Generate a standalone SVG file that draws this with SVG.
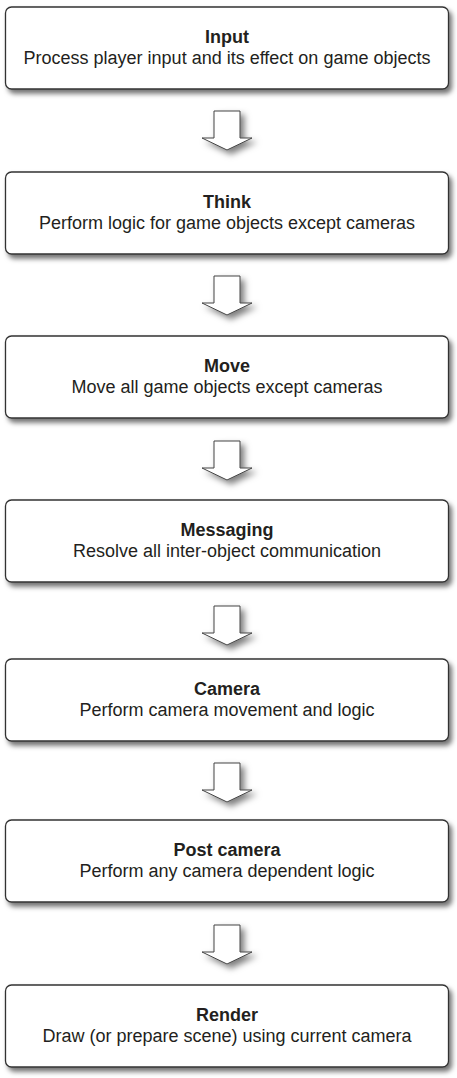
<svg xmlns="http://www.w3.org/2000/svg" width="457" height="1078" viewBox="0 0 457 1078">
<defs>
<filter id="bshadow" x="-10%" y="-20%" width="120%" height="150%">
<feDropShadow dx="3" dy="4" stdDeviation="2.5" flood-color="#000" flood-opacity="0.55"/>
</filter>
<filter id="ashadow" x="-50%" y="-50%" width="200%" height="200%">
<feDropShadow dx="4" dy="4" stdDeviation="3" flood-color="#000" flood-opacity="0.5"/>
</filter>
<style>
.box{fill:#fff;stroke:#333;stroke-width:1.3;filter:url(#bshadow)}
.arr{fill:#fff;stroke:#444;stroke-width:1;stroke-linejoin:miter;filter:url(#ashadow)}
.t{font-family:"Liberation Sans",Arial,sans-serif;font-size:18px;font-weight:bold;fill:#231f20;text-anchor:middle}
.s{font-family:"Liberation Sans",Arial,sans-serif;font-size:18px;fill:#231f20;text-anchor:middle}
</style>
</defs>
<rect width="457" height="1078" fill="#fff"/>
<g id="connectors">
<path class="arr" d="M214 111 H240 V138 H252 L227 150 L202 138 H214 Z"/>
<path class="arr" d="M214 276 H240 V303 H252 L227 315 L202 303 H214 Z"/>
<path class="arr" d="M214 441 H240 V468 H252 L227 480 L202 468 H214 Z"/>
<path class="arr" d="M214 606 H240 V633 H252 L227 645 L202 633 H214 Z"/>
<path class="arr" d="M214 763 H240 V790 H252 L227 802 L202 790 H214 Z"/>
<path class="arr" d="M214 925 H240 V952 H252 L227 964 L202 952 H214 Z"/>
</g>
<g id="input">
<rect class="box" x="5.5" y="7" width="443" height="82" rx="6"/>
<text class="t" x="227" y="42.7">Input</text>
<text class="s" x="227" y="64.3">Process player input and its effect on game objects</text>
</g>
<g id="think">
<rect class="box" x="5.5" y="172" width="443" height="82" rx="6"/>
<text class="t" x="227" y="207.7">Think</text>
<text class="s" x="227" y="229.3">Perform logic for game objects except cameras</text>
</g>
<g id="move">
<rect class="box" x="5.5" y="336" width="443" height="82" rx="6"/>
<text class="t" x="227" y="371.7">Move</text>
<text class="s" x="227" y="393.3">Move all game objects except cameras</text>
</g>
<g id="messaging">
<rect class="box" x="5.5" y="500" width="443" height="82" rx="6"/>
<text class="t" x="227" y="535.7">Messaging</text>
<text class="s" x="227" y="557.3">Resolve all inter-object communication</text>
</g>
<g id="camera">
<rect class="box" x="5.5" y="659" width="443" height="82" rx="6"/>
<text class="t" x="227" y="694.7">Camera</text>
<text class="s" x="227" y="716.3">Perform camera movement and logic</text>
</g>
<g id="postcamera">
<rect class="box" x="5.5" y="820" width="443" height="82" rx="6"/>
<text class="t" x="227" y="855.7">Post camera</text>
<text class="s" x="227" y="877.3">Perform any camera dependent logic</text>
</g>
<g id="render">
<rect class="box" x="5.5" y="985" width="443" height="82" rx="6"/>
<text class="t" x="227" y="1020.7">Render</text>
<text class="s" x="227" y="1042.3">Draw (or prepare scene) using current camera</text>
</g>
</svg>
